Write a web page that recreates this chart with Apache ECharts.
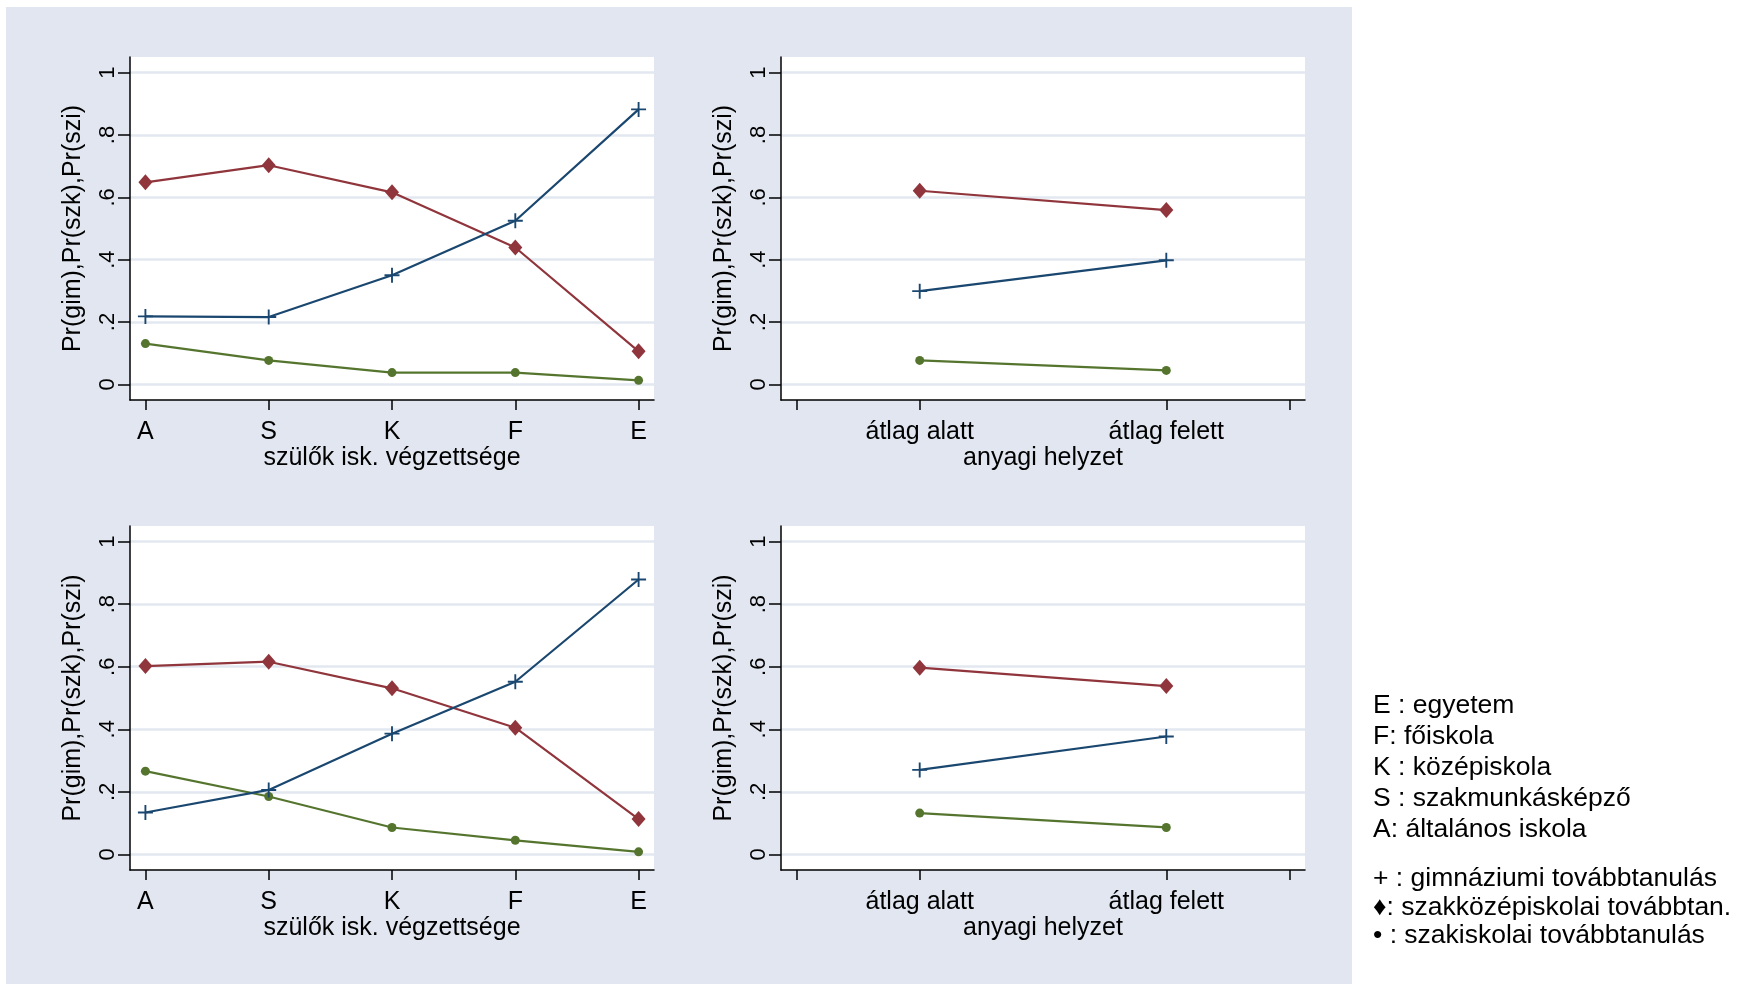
<!DOCTYPE html>
<html>
<head>
<meta charset="utf-8">
<script src="https://cdn.jsdelivr.net/npm/echarts@6/dist/echarts.min.js"></script>
<style>
html,body{margin:0;padding:0;background:#ffffff;}
#chart{width:1745px;height:986px;}
</style>
</head>
<body>
<div id="chart"></div>
<script>
// ---- data ----
const eduCategories = ['A', 'S', 'K', 'F', 'E'];
const wealthCategories = ['átlag alatt', 'átlag felett'];
const yTickValues = [0, 0.2, 0.4, 0.6, 0.8, 1];
const yTickLabels = ['0', '.2', '.4', '.6', '.8', '1'];
const yAxisTitle = 'Pr(gim),Pr(szk),Pr(szi)';
const eduAxisTitle = 'szülők isk. végzettsége';
const wealthAxisTitle = 'anyagi helyzet';

// top-left
const tlGim = [0.218, 0.216, 0.350, 0.525, 0.882];
const tlSzk = [0.648, 0.703, 0.616, 0.439, 0.106];
const tlSzi = [0.131, 0.077, 0.038, 0.038, 0.013];
// top-right
const trGim = [0.299, 0.398];
const trSzk = [0.621, 0.559];
const trSzi = [0.077, 0.045];
// bottom-left
const blGim = [0.134, 0.206, 0.386, 0.552, 0.879];
const blSzk = [0.602, 0.616, 0.531, 0.405, 0.113];
const blSzi = [0.266, 0.185, 0.086, 0.045, 0.008];
// bottom-right
const brGim = [0.270, 0.377];
const brSzk = [0.597, 0.538];
const brSzi = [0.132, 0.086];

const legendLines1 = ['E : egyetem', 'F: főiskola', 'K : középiskola', 'S : szakmunkásképző', 'A: általános iskola'];
const legendLines2 = ['+ : gimnáziumi továbbtanulás', '♦: szakközépiskolai továbbtan.', '• : szakiskolai továbbtanulás'];

// ---- styles ----
const NAVY = '#1a476f', MAROON = '#90353b', GREEN = '#55752f';
const BG = '#e1e6f0';
const GRIDLINE = '#e2e7f0';
const SANS = '"Liberation Sans", Arial, sans-serif';
const PLUS = 'path://M-1,-8H1V-1H8V1H1V8H-1V1H-8V-1H-1Z';

const grids = [
  {left: 130, top: 57, width: 524, height: 343},
  {left: 781, top: 57, width: 524, height: 343},
  {left: 130, top: 526, width: 524, height: 344},
  {left: 781, top: 526, width: 524, height: 344}
];

function yAxisFor(i) {
  return {
    type: 'value', gridIndex: i, min: -0.05, max: 1.05,
    name: yAxisTitle, nameLocation: 'middle', nameGap: 44,
    nameTextStyle: {fontFamily: SANS, fontSize: 25, color: '#000'},
    axisLine: {show: true, lineStyle: {color: '#000', width: 1.5}},
    axisTick: {show: true, length: 12, customValues: yTickValues, lineStyle: {color: '#000', width: 1.5}},
    axisLabel: {
      show: true, rotate: 90, margin: 11, fontFamily: SANS, fontSize: 22, color: '#000',
      customValues: yTickValues,
      formatter: function (v) {
        const k = yTickValues.findIndex(t => Math.abs(t - v) < 1e-6);
        return k >= 0 ? yTickLabels[k] : '';
      }
    },
    splitLine: {show: true, lineStyle: {color: GRIDLINE, width: 2.5}}
  };
}

function xEdu(i) {
  const ticks = eduCategories.map((c, k) => k + 1);
  return {
    type: 'value', gridIndex: i, min: 0.875, max: 5.125,
    name: eduAxisTitle, nameLocation: 'middle', nameGap: 45,
    nameTextStyle: {fontFamily: SANS, fontSize: 25, color: '#000'},
    axisLine: {show: true, onZero: false, lineStyle: {color: '#000', width: 1.5}},
    axisTick: {show: true, length: 10, customValues: ticks, lineStyle: {color: '#000', width: 1.5}},
    axisLabel: {
      show: true, margin: 20, fontFamily: SANS, fontSize: 25, color: '#000',
      customValues: ticks,
      formatter: function (v) { return eduCategories[Math.round(v) - 1] || ''; }
    },
    splitLine: {show: false}
  };
}

function xWealth(i) {
  const ticks = [0.5, 1, 2, 2.5];
  const labelVals = wealthCategories.map((c, k) => k + 1);
  return {
    type: 'value', gridIndex: i, min: 0.4375, max: 2.5625,
    name: wealthAxisTitle, nameLocation: 'middle', nameGap: 45,
    nameTextStyle: {fontFamily: SANS, fontSize: 25, color: '#000'},
    axisLine: {show: true, onZero: false, lineStyle: {color: '#000', width: 1.5}},
    axisTick: {show: true, length: 10, customValues: ticks, lineStyle: {color: '#000', width: 1.5}},
    axisLabel: {
      show: true, margin: 20, fontFamily: SANS, fontSize: 25, color: '#000',
      customValues: labelVals,
      formatter: function (v) { return wealthCategories[Math.round(v) - 1] || ''; }
    },
    splitLine: {show: false}
  };
}

function mkSeries(idx, vals, color, symbol, size) {
  return {
    type: 'line', xAxisIndex: idx, yAxisIndex: idx,
    data: vals.map((v, k) => [k + 1, v]),
    symbol: symbol, symbolSize: size, showSymbol: true,
    lineStyle: {color: color, width: 2.2},
    itemStyle: {color: color, borderWidth: 0},
    animation: false, silent: true
  };
}

const series = [];
[[tlGim, tlSzk, tlSzi], [trGim, trSzk, trSzi], [blGim, blSzk, blSzi], [brGim, brSzk, brSzi]].forEach((g, i) => {
  series.push(mkSeries(i, g[2], GREEN, 'circle', 9));
  series.push(mkSeries(i, g[1], MAROON, 'diamond', [14, 16]));
  series.push(mkSeries(i, g[0], NAVY, PLUS, 15));
});

const graphics = [
  {type: 'rect', shape: {x: 6, y: 7, width: 1346, height: 977}, style: {fill: BG}, z: -10, silent: true}
];
legendLines1.forEach((t, k) => {
  graphics.push({type: 'text', x: 1373, y: 706 + k * 31,
    style: {text: t, font: '26.5px ' + SANS, fill: '#000', textVerticalAlign: 'middle', verticalAlign: 'middle'}});
});
legendLines2.forEach((t, k) => {
  graphics.push({type: 'text', x: 1373, y: 879 + k * 28.5,
    style: {text: t, font: '26.5px ' + SANS, fill: '#000', textVerticalAlign: 'middle', verticalAlign: 'middle'}});
});

const chart = echarts.init(document.getElementById('chart'), null, {renderer: 'canvas'});
chart.setOption({
  backgroundColor: '#ffffff',
  animation: false,
  graphic: graphics,
  grid: grids.map(g => Object.assign({show: true, backgroundColor: '#ffffff', borderWidth: 0, containLabel: false}, g)),
  xAxis: [xEdu(0), xWealth(1), xEdu(2), xWealth(3)],
  yAxis: [yAxisFor(0), yAxisFor(1), yAxisFor(2), yAxisFor(3)],
  series: series
});
</script>
</body>
</html>
